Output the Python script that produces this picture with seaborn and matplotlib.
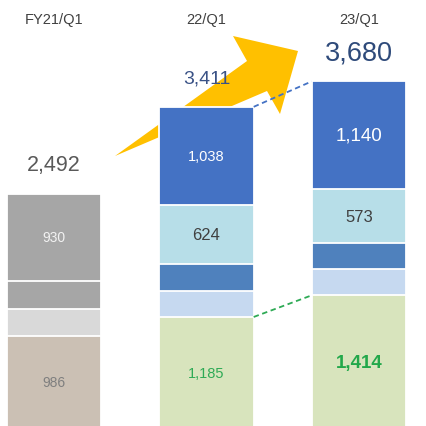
import matplotlib
matplotlib.use("Agg")
import matplotlib.pyplot as plt
from matplotlib.patches import Polygon
from matplotlib.transforms import Affine2D
import numpy as np
import seaborn as sns

periods = ["FY21/Q1", "22/Q1", "23/Q1"]
totals = [2492, 3411, 3680]

# segments bottom-up
seg_bottom = [986, 1185, 1414]
seg_small_light = [286, 280, 280]
seg_small_dark = [290, 284, 273]
seg_mid = [930, 624, 573]
seg_top = [0, 1038, 1140]

layers = [seg_bottom, seg_small_light, seg_small_dark, seg_mid, seg_top]
layer_colors = [
    ["#CBC0B4", "#D8E4BD", "#D8E4BD"],
    ["#D9D9D9", "#C6D9F0", "#C6D9F0"],
    ["#A6A6A6", "#4F81BD", "#4F81BD"],
    ["#A6A6A6", "#B7DEE8", "#B7DEE8"],
    ["#A6A6A6", "#4472C4", "#4472C4"],
]

sns.set_style("white")
plt.rcParams["font.family"] = ["Liberation Sans", "DejaVu Sans"]

fig = plt.figure(figsize=(4.26, 4.27), dpi=100)
ax = fig.add_axes([0, 0, 1, 1])

# stacked bars: draw cumulative heights, tallest first
cum = np.cumsum(np.array(layers), axis=0)
for i in range(len(layers) - 1, -1, -1):
    sns.barplot(x=periods, y=cum[i], hue=periods, palette=layer_colors[i],
                saturation=1, width=0.62, edgecolor="white", linewidth=1.3,
                legend=False, ax=ax, zorder=1)

ax.set_xlim(-0.354, 2.44)
ax.set_ylim(30, 4553)
ax.axis("off")

# big yellow arrow (decoration, figure pixels)
px = Affine2D().scale(1 / 426, -1 / 427).translate(0, 1) + fig.transFigure
arrow = Polygon([(115, 157), (247, 62), (233, 37), (298, 52), (280, 115), (267, 92)],
                closed=True, facecolor="#FFC000", edgecolor="none", transform=px, zorder=0.5)
ax.add_patch(arrow)

# dashed connectors between 22/Q1 and 23/Q1
hw = 0.31
ax.plot([1 + hw, 2 - hw], [totals[1], totals[2]], ls=(0, (3, 2)), color="#4472C4", lw=1.3, zorder=2)
ax.plot([1 + hw, 2 - hw], [seg_bottom[1], seg_bottom[2]], ls=(0, (3, 2)), color="#2EAA55", lw=1.3, zorder=2)

# period labels at top
for i, p in enumerate(periods):
    ax.text(i, 1 - 20 / 427, p, transform=ax.get_xaxis_transform(), ha="center", va="center",
            fontsize=10.5, color="#404040")

# totals
tot_colors = ["#595959", "#3A5286", "#2E4A7A"]
tot_sizes = [15.5, 14, 19.5]
for i, t in enumerate(totals):
    ax.annotate(f"{t:,}", (i, t), xytext=(0, 21), textcoords="offset points",
                ha="center", va="center", fontsize=tot_sizes[i], color=tot_colors[i], zorder=3)

# segment labels
def seg_label(layer_idx, i, color, size, weight="normal"):
    v = layers[layer_idx][i]
    y = cum[layer_idx][i] - v / 2
    ax.text(i, y, f"{v:,}", ha="center", va="center", fontsize=size, color=color,
            fontweight=weight, zorder=3)

seg_label(3, 0, "#F2F2F2", 10)
seg_label(0, 0, "#7F7F7F", 10)
seg_label(4, 1, "#FFFFFF", 10.5)
seg_label(3, 1, "#404040", 12)
seg_label(0, 1, "#2EAA55", 10.5)
seg_label(4, 2, "#FFFFFF", 13.5)
seg_label(3, 2, "#404040", 12)
seg_label(0, 2, "#22A84A", 13.5, "bold")

fig.savefig("out.png", dpi=100)
